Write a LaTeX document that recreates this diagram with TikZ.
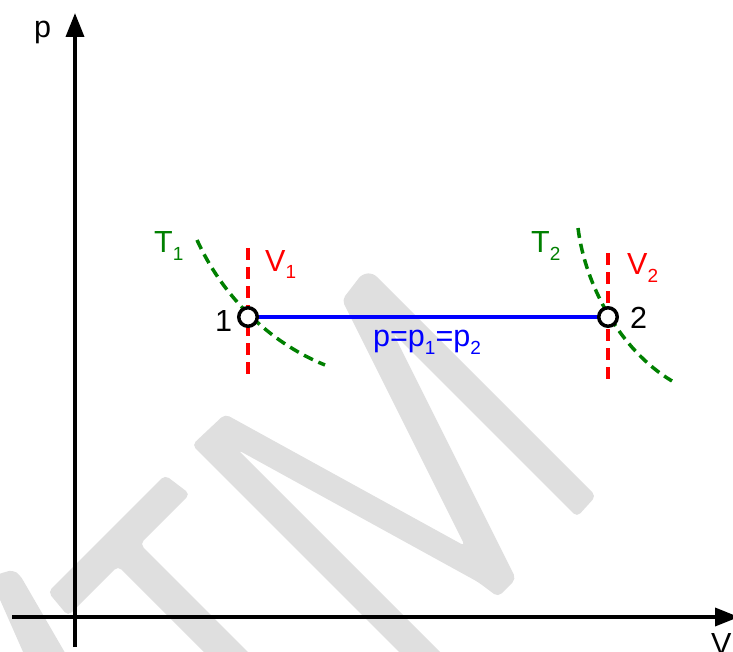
\documentclass[tikz,border=0pt]{standalone}
\usepackage{fontspec}
\setmainfont{Liberation Sans}
\usetikzlibrary{arrows.meta}
\definecolor{wmgray}{RGB}{223,223,223}
\definecolor{isogreen}{RGB}{0,128,0}
\definecolor{ivred}{RGB}{255,0,0}
\definecolor{ipblue}{RGB}{0,0,255}
\newcommand\subx[1]{\raisebox{-8pt}{\fontsize{19}{19}\selectfont #1}}
\begin{document}
\begin{tikzpicture}[x=1pt,y=-1pt,
  wm/.style={fill=wmgray,draw=none,rounded corners=5pt},
  axis/.style={line width=3.5pt,-{Triangle[length=24pt,width=18pt]}},
  isochor/.style={draw=ivred,line width=3.5pt,dash pattern=on 12pt off 7pt},
  isotherm/.style={draw=isogreen,line width=3.5pt,dash pattern=on 10pt off 6pt},
  isobar/.style={draw=ipblue,line width=3.5pt},
  state/.style={circle,draw=black,fill=white,line width=3.5pt,minimum size=18.5pt,inner sep=0pt},
  lbl/.style={inner sep=0pt,anchor=base west,font=\fontsize{30.5}{36}\selectfont}]
\useasboundingbox (0,0) rectangle (733,652);
% watermark
\begin{scope}
\clip (0,0) rectangle (733,652);
\fill[wm] (-10,577) -- (5,572) -- (13,570) -- (20,575) -- (75,670) -- (31,670) -- cycle;
\fill[wm] (48,592) -- (68,616) -- (118,566) -- (230,678) -- (274,678) -- (140,544) -- (190,494) -- (165,475) -- cycle;
\fill[wm] (425,678) -- (192,445) -- (225,414) -- (465,546) -- (342,300) -- (362,274) -- (373,273) -- (596,496) -- (577,517) -- (393,333) -- (516,579) -- (498,597) -- (478,582) -- (238,450) -- (466,678) -- cycle;
\end{scope}
% axes
\coordinate (ytop) at (75,13);
\coordinate (ybot) at (75,647);
\coordinate (xleft) at (12,617);
\coordinate (xright) at (739,617);
\draw[axis] (ybot) -- (ytop);
\draw[axis] (xleft) -- (xright);
\node[lbl] (plabel) at (34,38) {p};
\node[lbl] (vlabel) at (711,654) {V};
% states
\coordinate (P1) at (248,317);
\coordinate (P2) at (608,317);
\coordinate (v1t) at (248,248);
\coordinate (v1b) at (248,375);
\coordinate (v2t) at (608,253);
\coordinate (v2b) at (608,383);
\coordinate (t1a) at (197,240);
\coordinate (t1b) at (325,365);
\coordinate (t2a) at (578,228);
\coordinate (t2b) at (672,381);
\draw[isochor] (v1t) -- (v1b);
\draw[isochor] (v2t) -- (v2b);
\draw[isotherm] (t1a) .. controls (222,295) and (268,342) .. (t1b);
\draw[isotherm] (t2a) .. controls (585,285) and (620,350) .. (t2b);
\draw[isobar] (P1) -- (P2);
\node[state] (n1) at (P1) {};
\node[state] (n2) at (P2) {};
% labels
\node[lbl] (l1) at (215,331) {1};
\node[lbl] (l2) at (630,328) {2};
\node[lbl,text=isogreen] (lt1) at (154,253) {T\subx{1}};
\node[lbl,text=isogreen] (lt2) at (531,253) {T\subx{2}};
\node[lbl,text=ivred] (lv1) at (265,271) {V\subx{1}};
\node[lbl,text=ivred] (lv2) at (627,274) {V\subx{2}};
\node[lbl,text=ipblue] (lp) at (373,346) {p=p\subx{1}=p\subx{2}};
\end{tikzpicture}
\end{document}
